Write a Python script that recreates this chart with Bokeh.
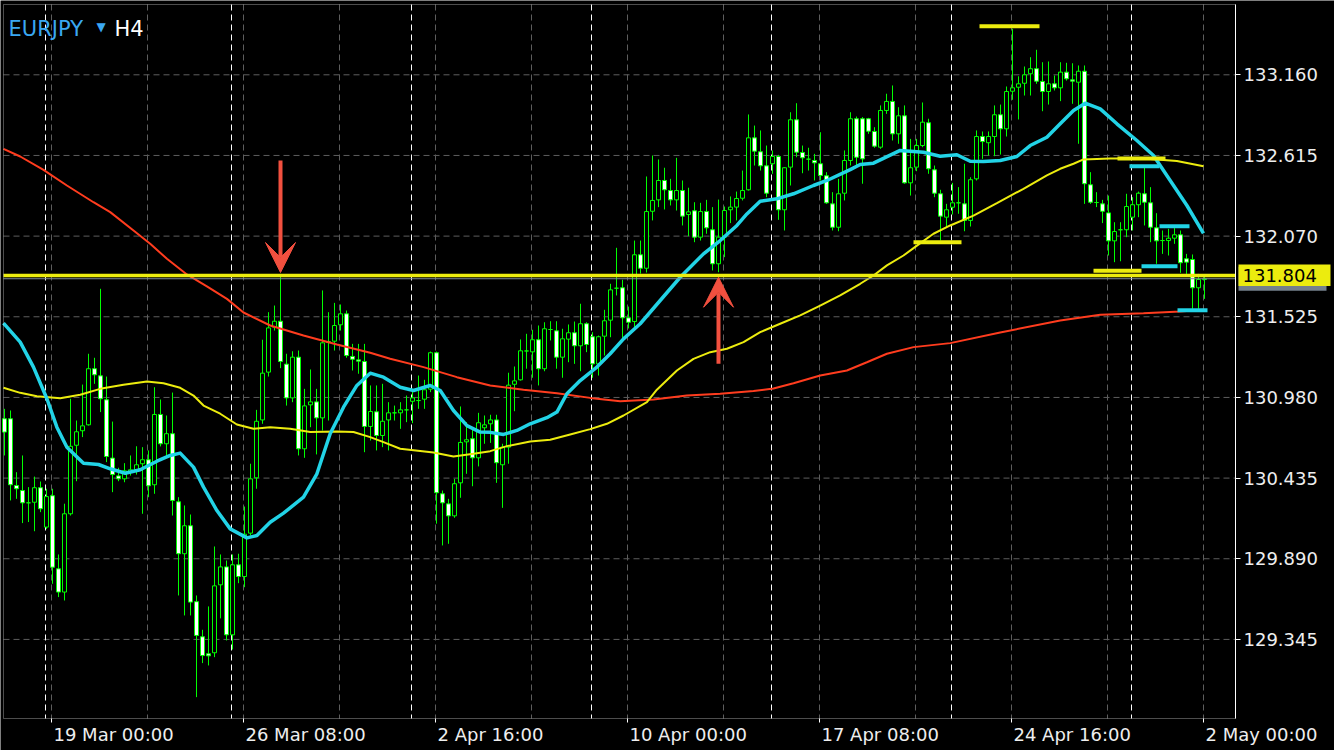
import numpy as np
from bokeh.plotting import figure
from bokeh.models import (Range1d, FixedTicker, LinearAxis, Label, Arrow, VeeHead,
                          PrintfTickFormatter, ColumnDataSource, BoxAnnotation, Grid)
from bokeh.embed import file_html
from bokeh.resources import INLINE

# ---------------------------------------------------------------- data
symbol = "EURJPY"
timeframe = "H4"

first_bar = -1          # index of the first (partly visible) H4 bar
bar_open = [
    130.836, 130.836, 130.385, 130.351, 130.268, 130.272, 130.370, 130.104, 130.316, 129.822,
    129.665, 130.194, 130.657, 130.755, 130.795, 131.174, 131.126, 130.964, 130.570, 130.450,
    130.430, 130.473, 130.486, 130.532, 130.559, 130.390, 130.865, 130.667, 130.735, 130.275,
    129.924, 130.113, 129.600, 129.363, 129.248, 129.255, 129.714, 129.835, 129.376, 129.849,
    129.770, 130.063, 130.437, 130.828, 131.151, 131.455, 131.495, 131.205, 130.977, 131.252,
    130.633, 130.930, 130.950, 130.842, 131.351, 131.360, 131.471, 131.545, 131.257, 131.234,
    131.223, 130.784, 130.883, 130.723, 130.828, 130.876, 130.876, 130.896, 130.954, 130.959,
    130.968, 131.036, 131.282, 130.329, 130.261, 130.180, 130.403, 130.680, 130.701, 130.572,
    130.775, 130.802, 130.828, 130.525, 130.644, 131.069, 131.099, 131.294, 131.288, 131.370,
    131.174, 131.439, 131.430, 131.252, 131.374, 131.417, 131.329, 131.478, 131.390, 131.207,
    131.394, 131.502, 131.718, 131.721, 131.518, 131.493, 131.944, 131.853, 132.238, 132.315,
    132.446, 132.378, 132.315, 132.378, 132.216, 132.241, 132.063, 132.236, 132.113, 131.883,
    132.063, 132.248, 132.266, 132.326, 132.383, 132.734, 132.640, 132.545, 132.559, 132.608,
    132.248, 132.536, 132.856, 132.635, 132.590, 132.581, 132.559, 132.478, 132.288, 132.130,
    132.360, 132.581, 132.863, 132.863, 132.863, 132.777, 132.671, 132.919, 132.980, 132.761,
    132.883, 132.430, 132.536, 132.682, 132.836, 132.518, 132.356, 132.198, 132.265, 132.295,
    132.288, 132.176, 132.457, 132.743, 132.701, 132.743, 132.890, 132.795, 133.049, 133.076,
    133.103, 133.167, 133.201, 133.115, 133.047, 133.099, 133.072, 133.178, 133.126, 133.110,
    133.184, 132.417, 132.297, 132.288, 132.227, 132.038, 132.113, 132.113, 132.198, 132.282,
    132.356, 132.295, 132.126, 132.040, 132.040, 132.056, 132.079, 131.917, 131.912, 131.721,
    131.777,
]
bar_high = [
    130.903, 130.892, 130.475, 130.588, 130.374, 130.445, 130.412, 130.363, 130.363, 129.919,
    130.262, 130.971, 130.824, 131.067, 131.275, 131.248, 131.714, 131.121, 130.817, 130.505,
    130.536, 130.588, 130.650, 130.644, 130.622, 131.049, 130.966, 130.858, 131.013, 130.306,
    130.250, 130.189, 129.642, 129.410, 129.568, 129.973, 129.919, 129.878, 129.919, 129.924,
    130.243, 130.532, 130.896, 131.370, 131.556, 131.601, 131.815, 131.275, 131.292, 131.297,
    131.038, 131.169, 131.038, 131.703, 131.556, 131.619, 131.608, 131.567, 131.342, 131.342,
    131.342, 131.061, 131.061, 131.072, 130.948, 130.925, 130.948, 130.993, 131.038, 131.128,
    131.099, 131.290, 131.290, 130.351, 130.295, 130.430, 130.919, 130.813, 130.768, 130.876,
    130.858, 130.863, 130.863, 130.667, 131.147, 131.189, 131.372, 131.410, 131.437, 131.466,
    131.488, 131.495, 131.495, 131.444, 131.473, 131.493, 131.613, 131.488, 131.421, 131.398,
    131.572, 131.748, 131.991, 131.775, 131.594, 132.040, 132.040, 132.473, 132.615, 132.588,
    132.532, 132.457, 132.599, 132.446, 132.397, 132.299, 132.295, 132.315, 132.266, 132.317,
    132.270, 132.338, 132.371, 132.513, 132.892, 132.817, 132.784, 132.682, 132.649, 132.619,
    132.536, 132.907, 132.968, 132.682, 132.667, 132.626, 132.772, 132.502, 132.367, 132.457,
    132.649, 132.907, 132.878, 132.874, 132.869, 132.806, 132.953, 133.032, 133.088, 132.941,
    132.953, 132.727, 132.727, 132.973, 132.863, 132.547, 132.383, 132.288, 132.430, 132.401,
    132.559, 132.468, 132.784, 132.777, 132.777, 132.953, 132.959, 133.081, 133.471, 133.150,
    133.216, 133.279, 133.329, 133.245, 133.250, 133.155, 133.245, 133.241, 133.238, 133.223,
    133.223, 132.502, 132.367, 132.315, 132.344, 132.164, 132.164, 132.356, 132.333, 132.371,
    132.536, 132.401, 132.225, 132.108, 132.119, 132.124, 132.108, 131.950, 131.946, 131.815,
    131.804,
]
bar_low = [
    130.588, 130.284, 130.295, 130.131, 130.138, 130.076, 130.205, 130.092, 129.721, 129.631,
    129.608, 130.182, 130.414, 130.712, 130.790, 131.072, 130.881, 130.543, 130.340, 130.414,
    130.407, 130.452, 130.459, 130.194, 130.306, 130.329, 130.649, 130.577, 130.182, 129.642,
    129.507, 129.507, 128.955, 129.185, 129.169, 129.225, 129.487, 129.338, 129.277, 129.725,
    129.698, 130.047, 130.363, 130.802, 131.121, 131.432, 131.178, 130.925, 130.948, 130.588,
    130.572, 130.779, 130.595, 130.757, 130.824, 131.297, 131.432, 131.248, 131.162, 131.140,
    130.610, 130.689, 130.622, 130.644, 130.622, 130.824, 130.768, 130.813, 130.806, 130.903,
    130.903, 131.016, 130.127, 129.980, 129.991, 130.167, 130.302, 130.464, 130.380, 130.514,
    130.667, 130.673, 130.403, 130.234, 130.532, 130.887, 131.094, 131.174, 131.113, 131.061,
    131.157, 131.365, 131.174, 131.113, 131.218, 131.207, 131.157, 131.286, 131.113, 131.128,
    131.263, 131.387, 131.669, 131.383, 131.446, 131.432, 131.817, 131.824, 132.176, 132.266,
    132.250, 132.277, 132.243, 132.142, 132.070, 132.029, 132.040, 132.086, 131.838, 131.826,
    131.928, 132.158, 132.176, 132.311, 132.378, 132.547, 132.513, 132.333, 132.491, 132.180,
    132.108, 132.412, 132.603, 132.495, 132.513, 132.446, 132.446, 132.288, 132.108, 132.103,
    132.311, 132.547, 132.536, 132.424, 132.761, 132.667, 132.660, 132.896, 132.716, 132.694,
    132.424, 132.344, 132.509, 132.671, 132.491, 132.333, 132.040, 132.130, 132.216, 132.221,
    132.103, 132.135, 132.446, 132.592, 132.615, 132.610, 132.621, 132.743, 132.991, 132.858,
    133.020, 133.020, 133.099, 132.914, 132.959, 133.054, 132.982, 133.121, 132.964, 132.694,
    132.288, 132.288, 132.266, 132.158, 131.939, 131.894, 131.900, 132.063, 132.108, 132.198,
    132.142, 132.029, 131.883, 131.950, 131.939, 132.018, 131.822, 131.815, 131.579, 131.579,
    131.646,
]
bar_close = [
    130.746, 130.390, 130.363, 130.268, 130.268, 130.370, 130.228, 130.310, 129.833, 129.665,
    130.194, 130.650, 130.748, 130.788, 131.174, 131.133, 130.971, 130.581, 130.459, 130.430,
    130.484, 130.491, 130.525, 130.559, 130.383, 130.865, 130.667, 130.735, 130.284, 129.924,
    130.113, 129.597, 129.372, 129.236, 129.234, 129.707, 129.835, 129.376, 129.849, 129.770,
    130.056, 130.430, 130.819, 131.144, 131.450, 131.495, 131.223, 130.977, 131.252, 130.633,
    130.923, 130.950, 130.842, 131.349, 131.358, 131.466, 131.545, 131.263, 131.238, 131.225,
    130.784, 130.885, 130.723, 130.819, 130.876, 130.876, 130.896, 130.896, 130.977, 130.959,
    131.032, 131.282, 130.336, 130.268, 130.180, 130.397, 130.676, 130.694, 130.572, 130.809,
    130.795, 130.828, 130.539, 130.644, 131.063, 131.092, 131.295, 131.294, 131.370, 131.174,
    131.444, 131.439, 131.252, 131.376, 131.417, 131.329, 131.478, 131.338, 131.207, 131.390,
    131.498, 131.707, 131.718, 131.518, 131.488, 131.944, 131.853, 132.236, 132.311, 132.446,
    132.383, 132.315, 132.378, 132.205, 132.234, 132.063, 132.236, 132.126, 131.883, 132.063,
    132.243, 132.266, 132.324, 132.378, 132.734, 132.644, 132.545, 132.360, 132.608, 132.248,
    132.532, 132.856, 132.637, 132.599, 132.590, 132.565, 132.480, 132.295, 132.130, 132.356,
    132.581, 132.863, 132.603, 132.592, 132.779, 132.678, 132.919, 132.980, 132.761, 132.883,
    132.430, 132.532, 132.682, 132.840, 132.525, 132.360, 132.205, 132.248, 132.295, 132.295,
    132.176, 132.451, 132.743, 132.709, 132.743, 132.890, 132.795, 133.047, 133.072, 133.099,
    133.160, 133.201, 133.117, 133.047, 133.099, 133.072, 133.178, 133.133, 133.117, 133.184,
    132.424, 132.299, 132.297, 132.238, 132.038, 132.101, 132.113, 132.270, 132.282, 132.360,
    132.299, 132.130, 132.038, 132.040, 132.056, 132.079, 131.890, 131.894, 131.721, 131.777,
    131.782,
]

# moving averages (bar position, price)
fast_ma_bar = [-1.17, 1.62, 3.83, 6.07, 7.73, 9.4, 12.17, 14.67, 16.62, 19.12, 21.62, 24.4,
               26.62, 28.28, 30.5, 32.17, 34.4, 36.62, 39.4, 41.07, 43.28, 45.5, 48.83, 51.07,
               53.28, 55.5, 57.73, 59.95, 62.17, 64.95, 67.17, 69.95, 71.62, 73.83, 76.07,
               78.28, 79.95, 82.17, 84.4, 86.62, 89.4, 91.07, 92.73, 94.95, 97.73, 99.95,
               102.17, 104.95, 108.28, 111.62, 115.5, 118.28, 121.07, 122.73, 124.95, 127.73,
               130.5, 133.83, 136.07, 139.95, 141.62, 143.83, 148.28, 152.17, 154.95, 157.73,
               159.95, 162.17, 164.95, 167.73, 169.95, 172.73, 174.95, 177.17, 179.12, 181.62,
               184.4, 187.73, 190.5, 193.28, 196.07, 198.83]
fast_ma = [131.482, 131.354, 131.185, 130.971, 130.779, 130.644, 130.536, 130.527, 130.498,
           130.468, 130.491, 130.549, 130.588, 130.604, 130.509, 130.374, 130.216, 130.092,
           130.031, 130.047, 130.137, 130.198, 130.306, 130.464, 130.735, 130.914, 131.061,
           131.144, 131.117, 131.049, 131.027, 131.061, 131.027, 130.892, 130.790, 130.746,
           130.744, 130.730, 130.757, 130.802, 130.843, 130.881, 131.005, 131.094, 131.185,
           131.275, 131.376, 131.478, 131.635, 131.792, 131.950, 132.040, 132.142, 132.220,
           132.306, 132.322, 132.356, 132.412, 132.446, 132.519, 132.554, 132.563, 132.649,
           132.637, 132.610, 132.620, 132.576, 132.574, 132.581, 132.608, 132.682, 132.738,
           132.829, 132.919, 132.968, 132.930, 132.829, 132.716, 132.615, 132.446, 132.277,
           132.089]

mid_ma_bar = [-1.17, 1.62, 4.4, 8.28, 11.62, 14.95, 18.83, 22.73, 25.5, 28.28, 30.5, 32.17,
              34.95, 37.73, 40.5, 43.28, 46.62, 49.95, 54.4, 57.17, 59.95, 62.17, 64.95, 70.5,
              73.83, 77.17, 79.95, 82.73, 86.62, 89.95, 93.28, 96.62, 99.4, 102.17, 106.07,
              107.73, 111.07, 113.83, 116.62, 119.4, 122.17, 124.95, 128.28, 131.62, 134.95,
              138.28, 141.62, 143.83, 146.07, 148.83, 151.07, 153.83, 156.62, 160.5, 164.4,
              168.83, 172.73, 174.95, 177.17, 178.83, 183.28, 188.83, 194.4, 198.83]
mid_ma = [131.045, 131.011, 130.988, 130.975, 130.998, 131.038, 131.065, 131.087, 131.076,
          131.045, 130.993, 130.925, 130.870, 130.797, 130.768, 130.779, 130.768, 130.746,
          130.750, 130.746, 130.712, 130.678, 130.633, 130.608, 130.581, 130.600, 130.617,
          130.651, 130.682, 130.694, 130.730, 130.766, 130.802, 130.858, 130.948, 131.032,
          131.162, 131.241, 131.286, 131.309, 131.354, 131.421, 131.478, 131.534, 131.601,
          131.669, 131.748, 131.804, 131.872, 131.939, 132.006, 132.086, 132.142, 132.209,
          132.293, 132.390, 132.480, 132.525, 132.559, 132.588, 132.594, 132.594, 132.578,
          132.542]

slow_ma_bar = [-1.17, 1.62, 5.5, 9.4, 13.83, 16.62, 20.5, 23.28, 26.07, 29.4, 32.73, 36.07,
               38.83, 43.28, 48.83, 54.4, 59.95, 63.28, 68.83, 74.4, 79.95, 85.5, 91.07, 96.62,
               101.62, 107.17, 112.73, 118.28, 123.83, 127.17, 130.5, 134.95, 139.4, 142.73,
               146.07, 150.5, 156.62, 164.95, 174.95, 181.62, 188.83, 194.95, 198.83]
slow_ma = [132.660, 132.608, 132.518, 132.412, 132.299, 132.232, 132.108, 132.018, 131.917,
           131.811, 131.730, 131.646, 131.554, 131.466, 131.399, 131.338, 131.282, 131.241,
           131.185, 131.117, 131.061, 131.032, 131.009, 130.977, 130.954, 130.966, 130.993,
           131.005, 131.023, 131.040, 131.076, 131.128, 131.162, 131.218, 131.275, 131.320,
           131.347, 131.419, 131.500, 131.538, 131.549, 131.560, 131.572]

# horizontal level, bid line, short high/low markers
level_price = 131.804
bid_price = 131.782
marker_price = [133.488, 132.029, 132.595, 131.836, 132.542, 132.137, 131.866, 131.569]
marker_from = [162, 151, 185, 181, 187, 192, 189, 195]
marker_to = [171, 158, 192, 188, 191, 196, 194, 199]
marker_kind = ["yellow", "yellow", "yellow", "yellow", "cyan", "cyan", "cyan", "cyan"]

# red arrows (bar, from price, to price)
arrow_bar = [45, 118]
arrow_from = [132.581, 131.208]
arrow_to = [131.824, 131.792]

# axes
price_ticks = [133.160, 132.615, 132.070, 131.525, 130.980, 130.435, 129.890, 129.345]
tick_bars = [7, 39, 71, 103, 135, 167, 199]
tick_labels = ["19 Mar 00:00", "26 Mar 08:00", "2 Apr 16:00", "10 Apr 00:00",
               "17 Apr 08:00", "24 Apr 16:00", "2 May 00:00"]
grid_bars = [7, 23, 39, 55, 71, 87, 103, 119, 135, 151, 167, 183, 199]
separator_bars = [6, 37, 67, 97, 127, 157, 187]

# ---------------------------------------------------------------- layout
W, H = 1334, 750
FRAME_L, FRAME_T, FRAME_R, FRAME_B = 3, 4, 1235, 718   # the chart box inside the canvas
BAR_PX = 6.0           # pixels per bar
BAR0_PX = 10.0         # canvas x of bar 0
REF_PRICE, REF_PY = 133.160, 74.3
PX_PER_PRICE = 148.0
LINE_SHIFT = -1.0 / BAR_PX   # vertical grid lines sit 1px left of bar centres


def px_to_bar(px):
    return (px - BAR0_PX) / BAR_PX


def py_to_price(py):
    return REF_PRICE - (py - REF_PY) / PX_PER_PRICE


GREEN = "#00ff00"
CYAN = "#22d3e6"
YELLOW = "#ecec0e"
RED_MA = "#ff3c1e"
ARROW_RED = "#f2503f"
GRID_GREY = "#5e5e5e"
LABEL = "#eeeeee"
FONT = "DejaVu Sans"
FS = "18px"

x_lo, x_hi = px_to_bar(FRAME_L), px_to_bar(FRAME_R)
y_lo, y_hi = py_to_price(FRAME_B), py_to_price(FRAME_T)

# the bokeh frame fills the whole canvas; the price/time scales are drawn as
# axes fixed at the edges of the chart box
p = figure(width=W, height=H, output_backend="svg", toolbar_location=None,
           x_range=Range1d(px_to_bar(0), px_to_bar(W)),
           y_range=Range1d(py_to_price(H), py_to_price(0)),
           x_axis_location=None, y_axis_location=None,
           min_border_left=0, min_border_top=0, min_border_right=0, min_border_bottom=0)
p.background_fill_color = "black"
p.border_fill_color = "black"
p.outline_line_color = None
# no default (solid) grids: the terminal grid is drawn below
p.renderers = [r for r in p.renderers if not isinstance(r, Grid)]
p.center = [r for r in p.center if not isinstance(r, Grid)]
for g in p.xgrid + p.ygrid:
    g.visible = False

# grid: grey dashed every 16 bars and every price tick, white dashed week separators
p.segment(x0=[b + LINE_SHIFT for b in grid_bars], x1=[b + LINE_SHIFT for b in grid_bars],
          y0=y_hi, y1=y_lo, line_color=GRID_GREY, line_dash="6 4", line_width=1)
p.segment(x0=x_lo, x1=x_hi, y0=price_ticks, y1=price_ticks,
          line_color=GRID_GREY, line_dash="6 4", line_width=1)
p.segment(x0=[b + LINE_SHIFT for b in separator_bars], x1=[b + LINE_SHIFT for b in separator_bars],
          y0=y_hi, y1=y_lo, line_color="white", line_dash="6 4", line_width=1)

# right price axis
ya = LinearAxis(fixed_location=x_hi, bounds=(y_lo, y_hi),
                ticker=FixedTicker(ticks=price_ticks),
                formatter=PrintfTickFormatter(format="%.3f"))
ya.axis_line_color = "white"
ya.major_tick_line_color = "white"
ya.major_tick_out = 5
ya.major_tick_in = 0
ya.minor_tick_line_color = None
ya.major_label_standoff = 3
ya.major_label_text_font = FONT
ya.major_label_text_font_size = FS
ya.major_label_text_color = LABEL
p.add_layout(ya, "right")

# bottom time axis: labels start at their tick, as in the terminal
CHAR_EM = {**{d: 0.636 for d in "0123456789"}, " ": 0.318, ":": 0.337,
           "M": 0.863, "a": 0.613, "r": 0.411, "A": 0.684, "p": 0.635, "y": 0.592}


def text_px(s, size=18):
    return sum(CHAR_EM.get(ch, 0.6) for ch in s) * size


label_pos = [round(b + (1.0 + text_px(t) / 2.0) / BAR_PX, 3) for b, t in zip(tick_bars, tick_labels)]
xa = LinearAxis(fixed_location=y_lo,
                ticker=FixedTicker(ticks=label_pos, minor_ticks=[b + LINE_SHIFT for b in tick_bars]))
xa.major_label_overrides = {pos: t for pos, t in zip(label_pos, tick_labels)}
xa.axis_line_color = None
xa.major_tick_line_color = None
xa.major_tick_out = 4
xa.major_tick_in = 0
xa.minor_tick_line_color = "white"
xa.minor_tick_out = 4
xa.minor_tick_in = 0
xa.major_label_standoff = 1
xa.major_label_text_font = FONT
xa.major_label_text_font_size = FS
xa.major_label_text_color = LABEL
p.add_layout(xa, "below")

# candles
o = np.array(bar_open); h = np.array(bar_high); l = np.array(bar_low); c = np.array(bar_close)
bars = np.arange(len(o)) + first_bar
src = ColumnDataSource(dict(
    x=bars, high=h, low=l,
    top=np.maximum(o, c), bottom=np.minimum(o, c),
    fill=np.where(c < o, "white", "black"),
))
p.segment(x0="x", y0="low", x1="x", y1="high", source=src, line_color=GREEN, line_width=1)
p.vbar(x="x", width=4.0 / BAR_PX, top="top", bottom="bottom", source=src,
       fill_color="fill", line_color=GREEN, line_width=1)

# moving averages
p.line(slow_ma_bar, slow_ma, line_color=RED_MA, line_width=2)
p.line(mid_ma_bar, mid_ma, line_color=YELLOW, line_width=2)
p.line(fast_ma_bar, fast_ma, line_color=CYAN, line_width=3.5, line_join="round")

# bid line and horizontal level
p.segment(x0=[x_lo], x1=[x_hi], y0=[bid_price], y1=[bid_price], line_color="#7f8c9a", line_width=1)
p.segment(x0=[x_lo], x1=[x_hi], y0=[level_price], y1=[level_price], line_color=YELLOW,
          line_width=3.5)

# high / low markers
mcol = {"yellow": YELLOW, "cyan": CYAN}
p.segment(x0=[b - 0.5 for b in marker_from], y0=marker_price,
          x1=[b + 0.5 for b in marker_to], y1=marker_price,
          line_color=[mcol[k] for k in marker_kind], line_width=4, line_cap="butt")

# arrows
for b, y0, y1 in zip(arrow_bar, arrow_from, arrow_to):
    p.add_layout(Arrow(end=VeeHead(size=30, fill_color=ARROW_RED, line_color=ARROW_RED),
                       x_start=b, y_start=y0, x_end=b, y_end=y1,
                       line_color=ARROW_RED, line_width=4))

# chart box
p.add_layout(BoxAnnotation(left=x_lo, right=x_hi, bottom=y_lo, top=y_hi,
                           fill_alpha=0, line_color="white", line_width=1))

# price tags in the scale: bid (grey, mostly hidden) and the level (yellow)
TAG_L, TAG_R = px_to_bar(1238), px_to_bar(1330)
p.quad(left=[TAG_L], right=[px_to_bar(1326)], top=[bid_price + 12 / PX_PER_PRICE],
       bottom=[bid_price - 12 / PX_PER_PRICE], fill_color="#74808c", line_color=None)
p.quad(left=[TAG_L], right=[TAG_R], top=[level_price + 11 / PX_PER_PRICE],
       bottom=[level_price - 10.5 / PX_PER_PRICE], fill_color=YELLOW, line_color=None)
p.add_layout(Label(x=px_to_bar(1242), y=level_price, text=f"{level_price:.3f}",
                   text_font=FONT, text_font_size=FS, text_color="black",
                   text_align="left", text_baseline="middle"))

# symbol / timeframe caption
p.add_layout(Label(x=px_to_bar(8), y=py_to_price(28), text=symbol, text_font=FONT,
                   text_font_size="21px", text_color="#3aa8f2", text_baseline="alphabetic"))
p.add_layout(Label(x=px_to_bar(96), y=py_to_price(26.5), text="\u25bc", text_font=FONT,
                   text_font_size="12px", text_color="#3aa8f2", text_baseline="alphabetic"))
p.add_layout(Label(x=px_to_bar(114), y=py_to_price(28), text=timeframe, text_font=FONT,
                   text_font_size="21px", text_color="white", text_baseline="alphabetic"))

open("out.html", "w").write(file_html(p, INLINE))
